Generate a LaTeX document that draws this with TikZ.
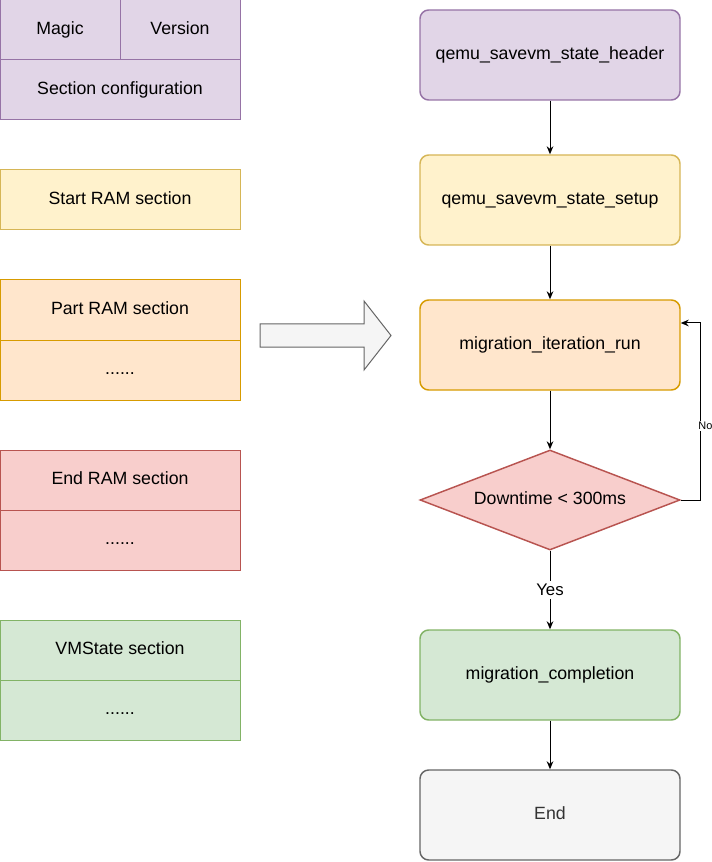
\documentclass[tikz,border=0pt]{standalone}
\usepackage{fontspec}
\setmainfont{Liberation Sans}
\usetikzlibrary{arrows.meta,shapes.geometric}
\definecolor{purpfill}{HTML}{E1D5E7}\definecolor{purpline}{HTML}{9673A6}
\definecolor{yelfill}{HTML}{FFF2CC}\definecolor{yelline}{HTML}{D6B656}
\definecolor{orafill}{HTML}{FFE6CC}\definecolor{oraline}{HTML}{D79B00}
\definecolor{redfill}{HTML}{F8CECC}\definecolor{redline}{HTML}{B85450}
\definecolor{grnfill}{HTML}{D5E8D4}\definecolor{grnline}{HTML}{82B366}
\definecolor{gryfill}{HTML}{F5F5F5}\definecolor{gryline}{HTML}{666666}
\definecolor{grytext}{HTML}{333333}
\tikzset{
  cell/.style={draw=#1line, fill=#1fill, line width=0.75pt, inner sep=0pt,
    text height=9.6pt, text depth=2.8pt, minimum width=180pt, minimum height=45pt},
  proc/.style={draw=#1line, fill=#1fill, line width=1.1pt, rounded corners=6.5pt,
    text height=9.6pt, text depth=2.8pt, inner sep=0pt, minimum width=195pt, minimum height=67.5pt},
  decide/.style={diamond, draw=#1line, fill=#1fill, line width=1.1pt, inner sep=0pt,
    text height=9.6pt, text depth=2.8pt, aspect=2.6, minimum width=195pt, minimum height=75pt},
  arr/.style={-{Stealth[length=6pt,width=5pt]}, line width=0.75pt}
}
\begin{document}
\begin{tikzpicture}[x=0.75pt,y=-0.75pt,font=\fontsize{13.3}{16}\selectfont]
\useasboundingbox (0,0) rectangle (712,862);
% left: stream layout
\node[cell=purp, minimum width=90pt] (magic) at (60,30) {Magic};
\node[cell=purp, minimum width=90pt] (version) at (180,30) {Version};
\node[cell=purp] (seccfg) at (120,90) {Section configuration};
\node[cell=yel] (startram) at (120,200) {Start RAM section};
\node[cell=ora] (partram) at (120,310) {Part RAM section};
\node[cell=ora] (partdots) at (120,370) {......};
\node[cell=red] (endram) at (120,480) {End RAM section};
\node[cell=red] (enddots) at (120,540) {......};
\node[cell=grn] (vmstate) at (120,650) {VMState section};
\node[cell=grn] (vmdots) at (120,710) {......};
% big arrow
\draw[draw=gryline, fill=gryfill, line width=0.75pt] (260,324)--(364,324)--(364,301)--(391,335.5)
--(364,370)--(364,347)--(260,347)--cycle;
% right: flow
\node[proc=purp] (header) at (550,55) {qemu\_savevm\_state\_header};
\node[proc=yel] (setup) at (550,200) {qemu\_savevm\_state\_setup};
\node[proc=ora] (iter) at (550,345) {migration\_iteration\_run};
\node[decide=red] (downtime) at (550,500) {Downtime < 300ms};
\node[proc=grn] (compl) at (550,675) {migration\_completion};
\node[proc=gry, text=grytext] (fin) at (550,815) {End};
\draw[arr] (header) -- (setup);
\draw[arr] (setup) -- (iter);
\draw[arr] (iter) -- (downtime);
\draw[arr] (downtime) -- node[fill=white, inner sep=2pt, font=\fontsize{12.6}{15}\selectfont] {Yes} (compl);
\draw[arr] (compl) -- (fin);
\draw[arr] (downtime.east) -- ++(20,0) |- ([yshift=16.5pt]iter.east)
  node[pos=0.21, fill=white, inner sep=1pt, xshift=3.5pt, font=\fontsize{8.2}{10}\selectfont] {No};
\end{tikzpicture}
\end{document}
